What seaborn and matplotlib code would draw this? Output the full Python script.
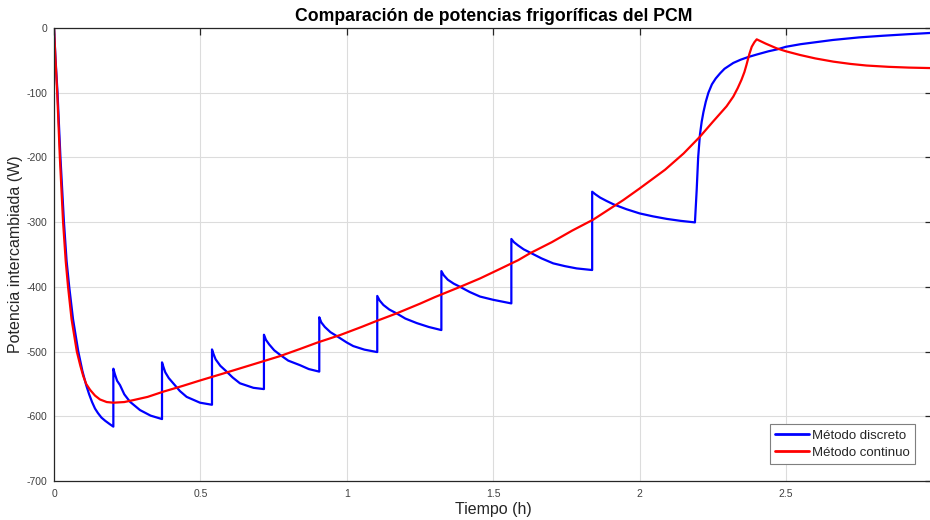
import numpy as np
import pandas as pd
import matplotlib
matplotlib.use("Agg")
import matplotlib.pyplot as plt
import seaborn as sns

# Tiempo (h) y potencia (W) del método discreto: descenso inicial, dientes de sierra y subida final
t_discreto = [
    0.0, 0.005, 0.012, 0.022, 0.034, 0.043, 0.052, 0.065, 0.083, 0.097, 0.11, 0.12, 0.13, 0.14, 0.15, 0.162, 0.175, 0.19, 0.2027,
    0.2027, 0.208, 0.2154, 0.2254, 0.24, 0.2596, 0.2937, 0.33, 0.3689,
    0.3689, 0.374, 0.38, 0.392, 0.4074, 0.43, 0.453, 0.4986, 0.5396,
    0.5396, 0.545, 0.552, 0.568, 0.5897, 0.61, 0.635, 0.681, 0.717,
    0.717, 0.724, 0.735, 0.752, 0.772, 0.80, 0.84, 0.87, 0.906,
    0.906, 0.913, 0.925, 0.944, 0.9655, 1.0, 1.022, 1.06, 1.104,
    1.104, 1.112, 1.125, 1.145, 1.17, 1.2, 1.239, 1.28, 1.323,
    1.323, 1.331, 1.345, 1.365, 1.387, 1.42, 1.455, 1.5, 1.562,
    1.562, 1.571, 1.585, 1.604, 1.626, 1.665, 1.705, 1.745, 1.785, 1.838,
    1.838, 1.849, 1.865, 1.886, 1.911, 1.955, 2.0, 2.045, 2.093, 2.14, 2.189,
    2.195, 2.2, 2.206, 2.212, 2.218, 2.226, 2.235, 2.247, 2.26, 2.275, 2.29, 2.32, 2.345, 2.37, 2.40, 2.44, 2.47, 2.50,
    2.55, 2.60, 2.66, 2.75, 2.83, 2.92, 3.0,
]
p_discreto = [
    0, -46, -100, -200, -300, -360, -400, -450, -500, -530, -552, -566, -578, -588, -595, -602, -607, -612, -616,
    -526.5, -535, -545, -551.8, -566, -577.6, -590.4, -599, -604.3,
    -516.7, -524, -532, -541, -549, -561, -570, -579, -582.2,
    -496.7, -504, -512, -522, -531, -540, -549, -556, -558,
    -474, -482, -489, -498, -505, -514, -521, -527, -531,
    -447, -455, -462, -470, -476, -486, -491.5, -497, -500.8,
    -414, -421, -428, -435, -441, -449, -456, -462, -466.8,
    -375.6, -382, -389, -395, -400, -408, -415, -420, -425.6,
    -326, -331, -336, -342, -347, -356, -363.7, -368, -371.5, -374,
    -253, -257, -262, -267, -272.5, -280, -286.5, -291, -295, -298, -300.4,
    -250, -200, -165, -145, -130, -114, -100, -87, -78, -70, -63, -54, -49, -45, -41, -36, -33, -29,
    -25, -22, -18.5, -14.5, -12, -9.5, -7.5,
]

# Tiempo (h) y potencia (W) del método continuo
t_continuo = [
    0.0, 0.005, 0.011, 0.020, 0.031, 0.040, 0.048, 0.060, 0.078, 0.09, 0.10, 0.11, 0.123, 0.14, 0.157, 0.18, 0.203,
    0.24, 0.271, 0.32, 0.373, 0.44, 0.5, 0.57, 0.635, 0.70, 0.772, 0.84, 0.90, 0.977, 1.05, 1.10, 1.17, 1.25, 1.30,
    1.387, 1.455, 1.52, 1.586, 1.626, 1.70, 1.77, 1.842, 1.944, 2.0, 2.087, 2.15, 2.206, 2.25, 2.297, 2.32, 2.335,
    2.348, 2.358, 2.365, 2.375, 2.383, 2.392, 2.40, 2.43, 2.468, 2.50, 2.548, 2.60, 2.662, 2.72, 2.775, 2.85, 2.92, 3.0,
]
p_continuo = [
    0, -48, -100, -200, -300, -360, -400, -450, -500, -522, -538, -550, -559, -568, -574, -578, -579,
    -578, -575, -570, -562, -553, -544.5, -535, -526, -517, -507, -496, -486, -474.5, -462, -453, -441, -426, -416,
    -400, -387, -373, -358.6, -348, -331, -313, -296, -266, -248, -219, -194, -168, -145, -121, -106, -93,
    -80, -68, -57, -40, -29, -22, -17.5, -24, -31.4, -36, -41.7, -47, -52, -55.5, -58, -60, -61.2, -62,
]

etiquetas = ["Método discreto", "Método continuo"]
x_ticks = [0, 0.5, 1, 1.5, 2, 2.5]
x_tick_labels = ["0", "0.5", "1", "1.5", "2", "2.5"]
y_ticks = [-700, -600, -500, -400, -300, -200, -100, 0]
y_tick_labels = ["-700", "-600", "-500", "-400", "-300", "-200", "-100", "0"]

sns.set_theme(style="whitegrid")
plt.rcParams["font.family"] = ["Liberation Sans", "DejaVu Sans"]

fig = plt.figure(figsize=(9.3, 5.2), dpi=100)
ax = fig.add_axes([54 / 930, 39 / 520, 878.4 / 930, 453 / 520])

df_d = pd.DataFrame({"t": t_discreto, "p": p_discreto})
df_c = pd.DataFrame({"t": t_continuo, "p": p_continuo})

sns.lineplot(data=df_d, x="t", y="p", sort=False, estimator=None, color=(0, 0, 1),
             linewidth=1.6, label=etiquetas[0], ax=ax)
sns.lineplot(data=df_c, x="t", y="p", sort=False, estimator=None, color=(1, 0, 0),
             linewidth=1.6, label=etiquetas[1], ax=ax)

ax.set_xlim(0, 3)
ax.set_ylim(-700, 0)
ax.set_xticks(x_ticks)
ax.set_xticklabels(x_tick_labels)
ax.set_yticks(y_ticks)
ax.set_yticklabels(y_tick_labels)

ax.set_facecolor("white")
ax.grid(True, color="#dcdcdc", linewidth=0.8)
for s in ax.spines.values():
    s.set_color("#262626")
    s.set_linewidth(0.9)

ax.tick_params(axis="both", which="major", direction="in", length=5, width=0.9,
               colors="#262626", labelsize=7.5, top=True, right=True,
               labelcolor="#404040")
ax.tick_params(axis="x", pad=6)
ax.tick_params(axis="y", pad=5)

ax.set_title("Comparación de potencias frigoríficas del PCM", fontsize=12.7,
             fontweight="bold", color="black", pad=5)
ax.set_xlabel("Tiempo (h)", fontsize=11.5, color="#262626", labelpad=2)
ax.set_ylabel("Potencia intercambiada (W)", fontsize=11.5, color="#262626", labelpad=2)

leg = ax.legend(loc="lower right", bbox_to_anchor=(0.980, 0.0375), fontsize=9.5,
                frameon=True, fancybox=False, handlelength=2.6, handletextpad=0.2,
                borderpad=0.4, labelspacing=0.35, borderaxespad=0)
leg.get_frame().set_edgecolor("#7f7f7f")
leg.get_frame().set_linewidth(0.8)
leg.get_frame().set_facecolor("white")
leg.get_frame().set_alpha(1)
for h in leg.get_lines():
    h.set_linewidth(2)

fig.savefig("out.png", dpi=100, facecolor="white")
